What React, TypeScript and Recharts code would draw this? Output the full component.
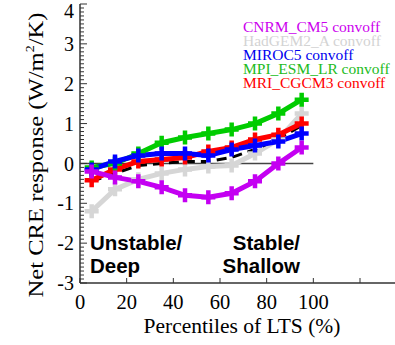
import React from 'react';
import { LineChart, Line, XAxis, YAxis, ReferenceLine, Legend, Customized } from 'recharts';

const percentiles = [5, 15, 25, 35, 45, 55, 65, 75, 85, 95];
const cnrm = [-0.2, -0.35, -0.45, -0.6, -0.8, -0.85, -0.75, -0.45, 0.0, 0.4];
const hadgem = [-1.2, -0.65, -0.4, -0.25, -0.15, -0.08, -0.05, 0.25, 0.6, 1.25];
const miroc = [-0.15, 0.05, 0.2, 0.25, 0.25, 0.2, 0.35, 0.45, 0.55, 0.75];
const mpi = [-0.1, 0.0, 0.25, 0.52, 0.65, 0.75, 0.85, 1.0, 1.25, 1.6];
const mri = [-0.42, -0.15, 0.05, 0.1, 0.15, 0.3, 0.4, 0.6, 0.72, 1.0];
const ensembleMean = [-0.45, -0.25, -0.05, 0.0, 0.05, 0.05, 0.15, 0.35, 0.62, 0.95];

const xTicks = [0, 20, 40, 60, 80, 100, 120];
const xTickLabels = ['0', '20', '40', '60', '80', '100', ''];

const seriesNames = ['CNRM_CM5 convoff', 'HadGEM2_A convoff', 'MIROC5 convoff', 'MPI_ESM_LR convoff', 'MRI_CGCM3 convoff'];
const seriesKeys = ['cnrm', 'hadgem', 'miroc', 'mpi', 'mri'];
const seriesColors = ['#c400f2', '#d6d6d6', '#0000ff', '#00cc00', '#ff0000'];
const legendColors = ['#cc00ee', '#d3d3d3', '#0000ee', '#22bb22', '#ff0000'];

const data = percentiles.map((p, i) => ({
  p,
  cnrm: cnrm[i],
  hadgem: hadgem[i],
  miroc: miroc[i],
  mpi: mpi[i],
  mri: mri[i],
  mean: ensembleMean[i],
}));

// minor y ticks every 0.1
const yTicks: number[] = [];
for (let k = -30; k <= 40; k++) yTicks.push(k / 10);

const AXIS = '#333';
const SERIF = '"Liberation Serif", "Times New Roman", serif';
const SANS = '"Liberation Sans", Arial, sans-serif';

const crossDot = (color: string) => (props: any) => {
  const { cx, cy, index } = props;
  if (cx == null || cy == null) return <g key={index} />;
  const h = 7;
  return (
    <path
      key={index}
      d={`M${cx - h},${cy}H${cx + h}M${cx},${cy - h}V${cy + h}`}
      stroke={color}
      strokeWidth={4.5}
      fill="none"
    />
  );
};

const YTick = (props: any) => {
  const { x, y, payload } = props;
  const v = payload.value;
  const major = Math.abs(v - Math.round(v)) < 1e-6;
  return (
    <g>
      <line x1={x} x2={x + (major ? 7 : 4)} y1={y} y2={y} stroke={AXIS} strokeWidth={1} />
      {major && (
        <text
          x={x - 6}
          y={y + (Math.round(v) === 4 ? 7 : 0)}
          dy="0.36em"
          textAnchor="end"
          fontFamily={SERIF}
          fontSize={20}
          fill="#000"
        >
          {Math.round(v)}
        </text>
      )}
    </g>
  );
};

const XTick = (props: any) => {
  const { x, y, payload } = props;
  return (
    <g>
      <line x1={x} x2={x} y1={y} y2={y - 5} stroke={AXIS} strokeWidth={1} />
      <text x={x} y={y + 26} textAnchor="middle" fontFamily={SERIF} fontSize={20.5} fill="#000">
        {xTickLabels[xTicks.indexOf(payload.value)] ?? ''}
      </text>
    </g>
  );
};

const XTopTick = (props: any) => {
  const { x, y } = props;
  return <line x1={x} x2={x} y1={y} y2={y + 5} stroke={AXIS} strokeWidth={1} />;
};

const LegendContent = () => (
  <div style={{ fontFamily: SERIF, fontSize: 15.5, lineHeight: '14px', whiteSpace: 'nowrap' }}>
    {seriesNames.map((n, i) => (
      <div key={n} style={{ color: legendColors[i], height: 14 }}>{n}</div>
    ))}
  </div>
);

const Annotations = () => (
  <g fontFamily={SANS} fontWeight="bold" fontSize={20.5} fill="#000">
    <text x={90} y={250}>Unstable/</text>
    <text x={90} y={273}>Deep</text>
    <text x={300} y={250} textAnchor="end">Stable/</text>
    <text x={300} y={273} textAnchor="end">Shallow</text>
    <text x={242} y={333} textAnchor="middle" fontFamily={SERIF} fontWeight="normal" fontSize={21.5}>
      Percentiles of LTS (%)
    </text>
    <text
      x={0}
      y={0}
      transform="translate(43,155) rotate(-90)"
      textAnchor="middle"
      fontFamily={SERIF}
      fontWeight="normal"
      fontSize={21}
      textLength={285}
      lengthAdjust="spacingAndGlyphs"
    >
      Net CRE response (W/m
      <tspan fontSize={12} dy={-9}>2</tspan>
      <tspan dy={9}>/K)</tspan>
    </text>
  </g>
);

export default function App() {
  const order = [4, 3, 2, 0];
  return (
    <div style={{ position: 'absolute', left: 0, top: 0, width: 395, height: 345, background: '#fff' }}>
      <LineChart width={395} height={345} data={data} margin={{ top: 4, right: 0, bottom: 0, left: 0 }}>
        <XAxis
          dataKey="p"
          type="number"
          domain={[0, 135]}
          ticks={xTicks}
          interval={0}
          height={62}
          tickSize={0}
          tickMargin={0}
          tickLine={false}
          axisLine={{ stroke: AXIS, strokeWidth: 1.5 }}
          tick={<XTick />}
          allowDataOverflow
        />
        <XAxis
          xAxisId="top"
          orientation="top"
          dataKey="p"
          type="number"
          domain={[0, 135]}
          ticks={xTicks}
          interval={0}
          height={0}
          tickSize={0}
          tickMargin={0}
          tickLine={false}
          axisLine={{ stroke: AXIS, strokeWidth: 1.5 }}
          tick={<XTopTick />}
          allowDataOverflow
        />
        <YAxis
          type="number"
          domain={[-3, 4]}
          ticks={yTicks}
          interval={0}
          width={80}
          tickSize={0}
          tickMargin={0}
          tickLine={false}
          axisLine={{ stroke: AXIS, strokeWidth: 1.5 }}
          tick={<YTick />}
          allowDataOverflow
        />
        <ReferenceLine
          segment={[{ x: 0, y: 0 }, { x: 100, y: 0 }]}
          stroke="#444"
          strokeWidth={1.5}
        />
        <Line
          dataKey="hadgem"
          name={seriesNames[1]}
          stroke={seriesColors[1]}
          strokeWidth={5}
          dot={crossDot(seriesColors[1])}
          isAnimationActive={false}
        />
        <Line
          dataKey="mean"
          stroke="#000"
          strokeWidth={3}
          strokeDasharray="10 6"
          dot={false}
          isAnimationActive={false}
          legendType="none"
        />
        {order.map((i) => (
          <Line
            key={seriesKeys[i]}
            dataKey={seriesKeys[i]}
            name={seriesNames[i]}
            stroke={seriesColors[i]}
            strokeWidth={5}
            dot={crossDot(seriesColors[i])}
            isAnimationActive={false}
          />
        ))}
        <Legend
          layout="horizontal"
          verticalAlign="middle"
          content={<LegendContent />}
          wrapperStyle={{ top: 20, left: 243, width: 'auto' }}
        />
        <Customized component={<Annotations />} />
      </LineChart>
    </div>
  );
}
